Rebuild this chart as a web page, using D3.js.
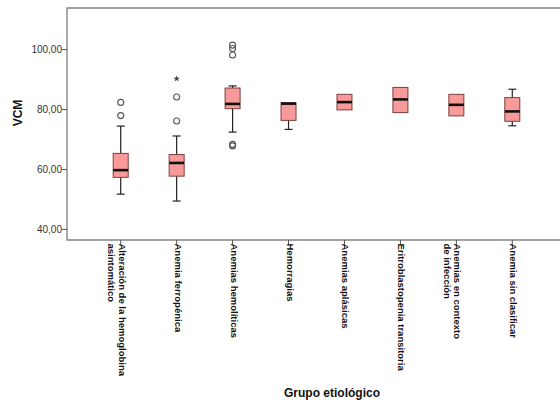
<!DOCTYPE html>
<html>
<head>
<meta charset="utf-8">
<script src="https://cdn.jsdelivr.net/npm/d3@7"></script>
<style>
  body { margin: 0; background: #fff; }
  text { font-family: "Liberation Sans", Arial, sans-serif; }
</style>
</head>
<body>
<div id="chart"></div>
<script>
var svgWidth = 560;
var svgHeight = 403;

var margin = { top: 8, right: 0, bottom: 163, left: 67 };
var width = svgWidth - margin.left - margin.right;
var height = svgHeight - margin.top - margin.bottom;

// categories (label lines)
var categories = [
  ["Alteración de la hemoglobina", "asintomático"],
  ["Anemia ferropénica"],
  ["Anemias hemolíticas"],
  ["Hemorragias"],
  ["Anemias aplásicas"],
  ["Eritroblastopenia transitoria"],
  ["Anemias en contexto", "de infección"],
  ["Anemia sin clasificar"]
];

// box stats
var q1      = [57.2, 57.6, 80.1, 76.2, 79.7, 78.8, 77.7, 75.9];
var medians = [59.6, 62.0, 81.7, 81.8, 82.3, 83.2, 81.4, 79.2];
var q3      = [65.2, 64.8, 87.0, 82.1, 84.9, 87.2, 84.9, 83.8];
var whiskLo = [51.6, 49.3, 72.3, 73.2, 79.7, 78.8, 77.7, 74.4];
var whiskHi = [74.3, 71.0, 87.7, 82.1, 84.9, 87.2, 84.9, 86.6];
var outliers = [
  [77.8, 82.2],
  [76.0, 84.0],
  [98.0, 100.2, 101.3, 68.2, 67.7],
  [], [], [], [], []
];
var extremes = [[], [90.1], [], [], [], [], [], []];

var yTicks = [40, 60, 80, 100];

var svg = d3.select("#chart")
  .append("svg")
  .attr("width", svgWidth)
  .attr("height", svgHeight);

var chartGroup = svg.append("g")
  .attr("transform", `translate(${margin.left}, ${margin.top})`);

var x = d3.scalePoint()
  .domain(d3.range(categories.length))
  .range([0, width + 6])
  .padding(0.96);

var y = d3.scaleLinear()
  .domain([36.3, 113.7])
  .range([height, 0]);

// frame
chartGroup.append("path")
  .attr("d", `M${width + 2},0H0V${height}H${width + 2}`)
  .attr("fill", "none")
  .attr("stroke", "#858585")
  .attr("stroke-width", 1.4);

// y axis
var leftAxis = d3.axisLeft(y)
  .tickValues(yTicks)
  .tickSize(5)
  .tickFormat(d => d3.format(".2f")(d).replace(".", ","));

var yAxis = chartGroup.append("g").call(leftAxis);
yAxis.select(".domain").remove();
yAxis.selectAll("line").attr("stroke", "#555");
yAxis.selectAll("text")
  .attr("font-size", "10px")
  .attr("fill", "#333")
  .attr("x", -5)
  .style("font-family", "Liberation Sans, Arial, sans-serif");

// x ticks + labels
var xg = chartGroup.selectAll(".xlab")
  .data(categories)
  .enter()
  .append("g")
  .attr("class", "xlab")
  .attr("transform", (d, i) => `translate(${x(i)}, ${height})`);

xg.append("line")
  .attr("y1", 0).attr("y2", 5)
  .attr("stroke", "#555");

xg.each(function(d) {
  var t = d3.select(this).append("text")
    .attr("transform", "rotate(90)")
    .attr("font-size", "9.5px")
    .attr("font-weight", "bold")
    .attr("fill", "#111");
  d.forEach(function(line, k) {
    t.append("tspan")
      .attr("x", 3.5)
      .attr("y", 2 + k * 10.5)
      .text(line);
  });
});

var bw = 15;

// whiskers
var boxes = chartGroup.selectAll(".box")
  .data(categories)
  .enter()
  .append("g")
  .attr("class", "box")
  .attr("transform", (d, i) => `translate(${x(i)}, 0)`);

boxes.append("line")
  .attr("y1", (d, i) => y(whiskHi[i]))
  .attr("y2", (d, i) => y(whiskLo[i]))
  .attr("stroke", "#222")
  .attr("stroke-width", 1.2);

boxes.each(function(d, i) {
  var g = d3.select(this);
  [whiskHi[i], whiskLo[i]].forEach(function(v, k) {
    var edge = k == 0 ? q3[i] : q1[i];
    if (Math.abs(v - edge) > 0.3) {
      g.append("line")
        .attr("x1", -4).attr("x2", 4)
        .attr("y1", y(v)).attr("y2", y(v))
        .attr("stroke", "#222")
        .attr("stroke-width", 1.2);
    }
  });
});

boxes.append("rect")
  .attr("x", -bw / 2)
  .attr("width", bw)
  .attr("y", (d, i) => y(q3[i]))
  .attr("height", (d, i) => y(q1[i]) - y(q3[i]))
  .attr("fill", "#f99a9a")
  .attr("stroke", "#7a4040")
  .attr("stroke-width", 1);

boxes.append("line")
  .attr("x1", -bw / 2).attr("x2", bw / 2)
  .attr("y1", (d, i) => y(medians[i]))
  .attr("y2", (d, i) => y(medians[i]))
  .attr("stroke", "#111")
  .attr("stroke-width", 2.6);

// outliers
boxes.each(function(d, i) {
  var g = d3.select(this);
  outliers[i].forEach(function(v) {
    g.append("circle")
      .attr("cy", y(v))
      .attr("r", 3)
      .attr("fill", "none")
      .attr("stroke", "#555")
      .attr("stroke-width", 1.1);
  });
  extremes[i].forEach(function(v) {
    g.append("path")
      .attr("transform", `translate(0, ${y(v)})`)
      .attr("d", d3.symbol(d3.symbolStar, 14)())
      .attr("fill", "#444");
  });
});

// axis titles
svg.append("text")
  .attr("transform", `translate(22, 113) rotate(-90)`)
  .attr("text-anchor", "middle")
  .attr("font-size", "12px")
  .attr("font-weight", "bold")
  .attr("fill", "#111")
  .text("VCM");

svg.append("text")
  .attr("x", 332)
  .attr("y", 397)
  .attr("text-anchor", "middle")
  .attr("font-size", "12px")
  .attr("font-weight", "bold")
  .attr("fill", "#111")
  .text("Grupo etiológico");
</script>
</body>
</html>
